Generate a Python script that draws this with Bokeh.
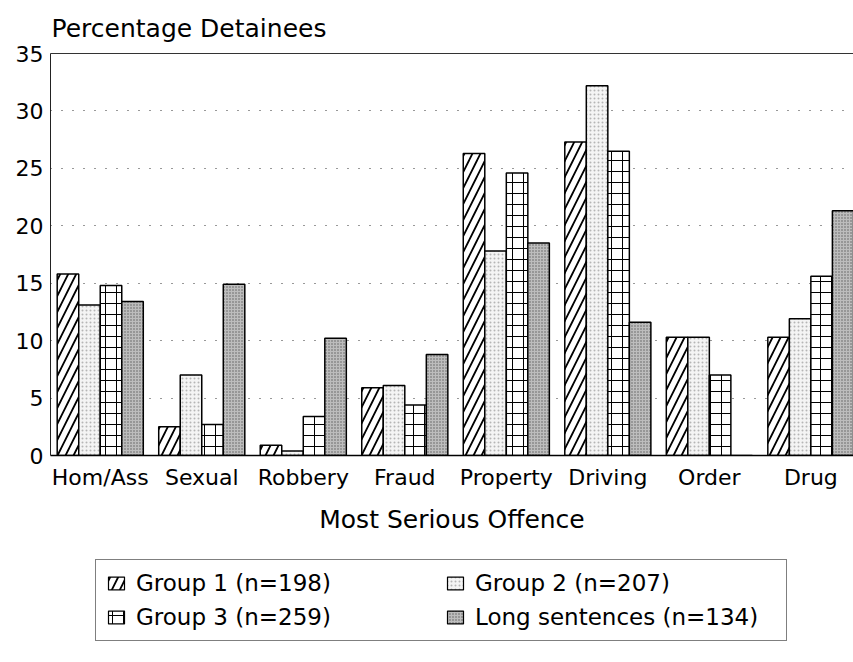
from bokeh.plotting import figure
from bokeh.layouts import column
from bokeh.models import (Range1d, FixedTicker, LinearAxis, Legend, LegendItem,
                          ColumnDataSource)
from bokeh.transform import dodge
from bokeh.embed import file_html
from bokeh.resources import INLINE

# ---- data ----
categories = ["Hom/Ass", "Sexual", "Robbery", "Fraud", "Property", "Driving", "Order", "Drug"]
group1 = [15.8, 2.5, 0.9, 5.9, 26.3, 27.3, 10.3, 10.3]
group2 = [13.1, 7.0, 0.4, 6.1, 17.8, 32.2, 10.3, 11.9]
group3 = [14.8, 2.7, 3.4, 4.4, 24.6, 26.5, 7.0, 15.6]
long_sentences = [13.4, 14.9, 10.2, 8.8, 18.5, 11.6, 0.0, 21.3]
series_labels = ["Group 1 (n=198)", "Group 2 (n=207)", "Group 3 (n=259)", "Long sentences (n=134)"]
y_ticks = [0, 5, 10, 15, 20, 25, 30, 35]
grid_ticks = [5, 10, 15, 20, 25, 30]

FONT = "DejaVu Sans"

positions = list(range(len(categories)))
source = ColumnDataSource(dict(pos=positions, g1=group1, g2=group2, g3=group3, ls=long_sentences))

p = figure(width=853, height=540, output_backend="svg", toolbar_location=None,
           x_range=Range1d(-0.49, 7.42), y_range=Range1d(0, 35),
           min_border_left=50, min_border_right=0, min_border_top=53, min_border_bottom=85,
           outline_line_color=None, background_fill_color="white", border_fill_color="white")

p.title.text = "Percentage Detainees"
p.title.text_font = FONT
p.title.text_font_size = "25px"
p.title.text_font_style = "normal"
p.title.text_color = "black"
p.title.align = "left"
p.title.offset = 1
p.title.standoff = 21

bw = 0.212
offsets = [-1.5 * bw, -0.5 * bw, 0.5 * bw, 1.5 * bw]
cols = ["g1", "g2", "g3", "ls"]
styles = [
    dict(fill_color="white", hatch_pattern="/", hatch_scale=16, hatch_weight=1.8, hatch_color="black"),
    dict(fill_color="#f4f4f4", hatch_pattern="dot", hatch_scale=4, hatch_weight=1, hatch_color="#b5b5b5"),
    dict(fill_color="white", hatch_pattern="+", hatch_scale=11, hatch_weight=1, hatch_color="black"),
    dict(fill_color="#bdbdbd", hatch_pattern="dot", hatch_scale=3, hatch_weight=1, hatch_color="#5e5e5e"),
]
for col, off, st in zip(cols, offsets, styles):
    p.vbar(x=dodge("pos", off, range=p.x_range), top=col, bottom=0, width=bw, source=source,
           line_color="black", line_width=1.5, **st)

# axes
p.xaxis.ticker = FixedTicker(ticks=positions)
p.xaxis.major_label_overrides = {i: c for i, c in enumerate(categories)}
p.xaxis.major_label_text_font = FONT
p.xaxis.major_label_text_font_size = "22px"
p.xaxis.major_label_text_color = "black"
p.xaxis.major_label_standoff = 9
p.xaxis.major_tick_out = 0
p.xaxis.major_tick_in = 0
p.xaxis.axis_label = "Most Serious Offence"
p.xaxis.axis_label_text_font = FONT
p.xaxis.axis_label_text_font_size = "25px"
p.xaxis.axis_label_text_font_style = "normal"
p.xaxis.axis_label_text_color = "black"
p.xaxis.axis_label_standoff = 12
p.xaxis.axis_line_color = "black"
p.xaxis.axis_line_width = 1.5
p.xaxis.major_tick_line_color = None
p.xaxis.minor_tick_line_color = None

p.yaxis.ticker = FixedTicker(ticks=y_ticks)
p.yaxis.major_label_text_font = FONT
p.yaxis.major_label_text_font_size = "22px"
p.yaxis.major_label_text_color = "black"
p.yaxis.major_label_standoff = 7
p.yaxis.major_tick_out = 0
p.yaxis.major_tick_in = 0
p.yaxis.axis_line_color = "#222222"
p.yaxis.axis_line_width = 1
p.yaxis.major_tick_line_color = None
p.yaxis.minor_tick_line_color = None

top_axis = LinearAxis(ticker=FixedTicker(ticks=[]), axis_line_color="#333333", axis_line_width=1.2,
                      major_tick_line_color=None, minor_tick_line_color=None,
                      major_tick_out=0, major_tick_in=0)
p.add_layout(top_axis, "above")

p.xgrid.grid_line_color = None
p.ygrid.ticker = FixedTicker(ticks=grid_ticks)
p.ygrid.grid_line_color = "#333333"
p.ygrid.grid_line_dash = "1 10"
p.ygrid.grid_line_width = 1.2

# ---- legend panel (separate figure below the chart; its key bars lie outside its view) ----
lg = figure(width=853, height=122, output_backend="svg", toolbar_location=None,
            x_range=Range1d(-0.49, 7.42), y_range=Range1d(50, 60),
            x_axis_type=None, y_axis_type=None,
            min_border_left=50, min_border_right=0, min_border_top=0, min_border_bottom=0,
            outline_line_color=None, background_fill_color="white", border_fill_color="white")
lg.xgrid.grid_line_color = None
lg.ygrid.grid_line_color = None
key_renderers = []
for col, off, st in zip(cols, offsets, styles):
    kr = lg.vbar(x=dodge("pos", off, range=lg.x_range), top=col, bottom=0, width=bw, source=source,
                 line_color="black", line_width=1.2, **st)
    key_renderers.append(kr)

legend = Legend(items=[LegendItem(label=lab, renderers=[r]) for lab, r in zip(series_labels, key_renderers)],
                ncols=2, orientation="horizontal", location=(45, 21),
                label_text_font=FONT, label_text_font_size="23px", label_text_color="black",
                glyph_width=20, glyph_height=16, label_standoff=10, spacing=8, label_width=301,
                padding=10, margin=0, border_line_color="black", border_line_width=1,
                background_fill_color="white")
lg.add_layout(legend, "center")

layout = column(p, lg, spacing=0)
open("out.html", "w").write(file_html(layout, INLINE))
